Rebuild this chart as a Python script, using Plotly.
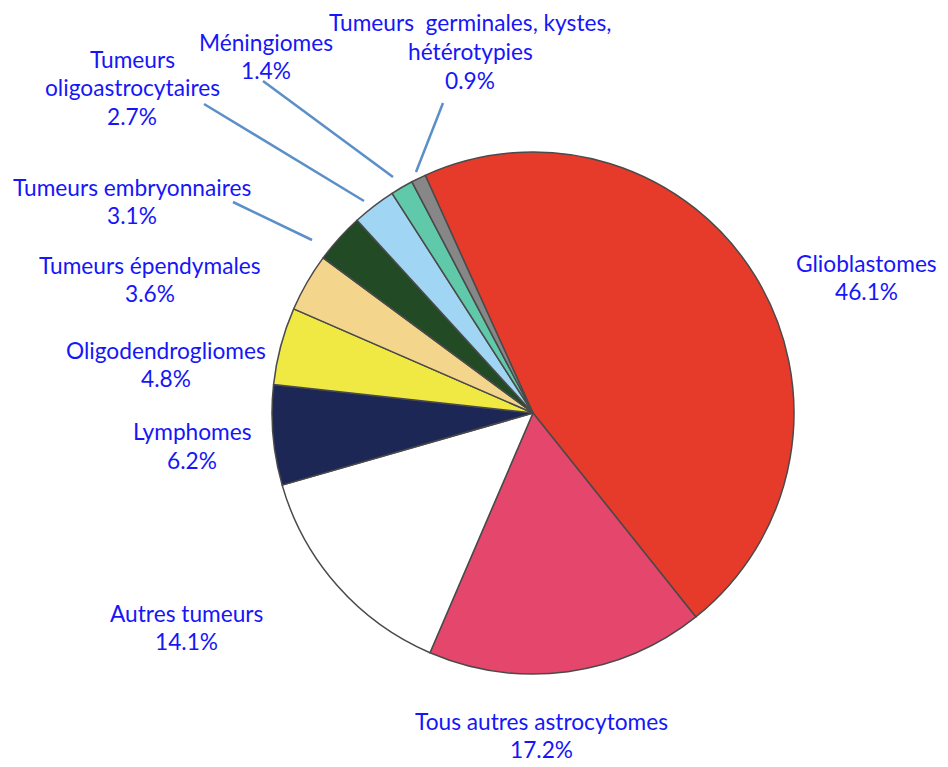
import plotly.graph_objects as go

OFF = 8  # page body margin
W, H = 948 - OFF, 767 - OFF

labels = ["Glioblastomes", "Tous autres astrocytomes", "Autres tumeurs", "Lymphomes",
          "Oligodendrogliomes", "Tumeurs épendymales", "Tumeurs embryonnaires",
          "Tumeurs oligoastrocytaires", "Méningiomes",
          "Tumeurs  germinales, kystes, hétérotypies"]
values = [46.1, 17.2, 14.1, 6.2, 4.8, 3.6, 3.1, 2.7, 1.4, 0.9]
label_lines = [["Glioblastomes"], ["Tous autres astrocytomes"], ["Autres tumeurs"], ["Lymphomes"],
               ["Oligodendrogliomes"], ["Tumeurs épendymales"], ["Tumeurs embryonnaires"],
               ["Tumeurs", "oligoastrocytaires"], ["Méningiomes"],
               ["Tumeurs  germinales, kystes,", "hétérotypies"]]
colors = ["#E63B2B", "#E5466B", "#FFFFFF", "#1D2756", "#F0E944", "#F3D58C",
          "#214A25", "#A0D5F4", "#5FC9AA", "#878787"]

# label first-line centres (page pixels) and leader lines - layout only
label_pos = [(866, 263), (541, 721), (186, 613), (192, 432), (166, 350),
             (150, 265), (132, 187), (132, 59), (266, 42), (470, 23)]
LINE_GAP = 28.8
leaders = {6: ((233, 202), (312, 240)),
           7: ((204, 104), (364, 201)),
           8: ((263, 81), (393, 177)),
           9: ((443, 103), (416, 172))}

def px(x):
    return (x - OFF) / W

def py(y):
    return 1 - (y - OFF) / H

fig = go.Figure(go.Pie(
    labels=labels, values=values, sort=False, direction="clockwise",
    rotation=-24.4,
    marker=dict(colors=colors, line=dict(color="#4a4a4a", width=1.5)),
    textinfo="none", hoverinfo="label+percent", showlegend=False,
    domain=dict(x=[px(272), px(794)], y=[py(674), py(152)]),
))

font = dict(family="Lato, 'Open Sans', sans-serif", size=22.7, color="#1616F8")
for i, (lines, v) in enumerate(zip(label_lines, values)):
    x, y = label_pos[i]
    for k, t in enumerate(lines + [f"{v}%"]):
        fig.add_annotation(x=px(x), y=py(y + k * LINE_GAP), xref="paper", yref="paper",
                           text=t, showarrow=False, font=font,
                           xanchor="center", yanchor="middle", align="center")

for i, ((x0, y0), (x1, y1)) in leaders.items():
    fig.add_shape(type="line", xref="paper", yref="paper",
                  x0=px(x0), y0=py(y0), x1=px(x1), y1=py(y1),
                  line=dict(color="#5B8FC8", width=2.5))

fig.update_layout(width=W, height=H, margin=dict(l=0, r=0, t=0, b=0),
                  paper_bgcolor="white", plot_bgcolor="white")
fig.write_html("out.html")
